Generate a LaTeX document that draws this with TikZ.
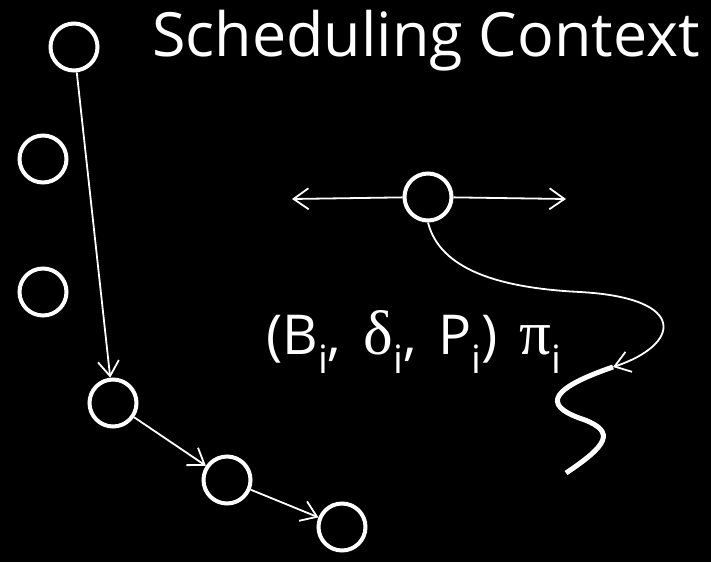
\documentclass[tikz,border=0pt]{standalone}
\usepackage{fontspec}
\setmainfont{Open Sans}
\newfontfamily\grk{Liberation Serif}
\usetikzlibrary{arrows.meta}

% lowered index letter as in the slide font
\newcommand{\idx}[1]{\raisebox{-19pt}{\fontsize{39}{39}\selectfont #1}}
\newcommand{\gap}{\hspace{22pt}}

\begin{document}
\begin{tikzpicture}[x=1pt,y=-1pt,>={Straight Barb[length=15pt,width=21pt]}]

  \tikzstyle{every node}=[text=white]
  \tikzstyle{task}=[circle,draw=white,line width=4pt,minimum size=47pt,inner sep=0pt]

  % slide background
  \fill[black] (0,0) rectangle (711,562);
  \useasboundingbox (0,0) rectangle (711,562);

  \node[anchor=base west,inner sep=0pt,font=\fontsize{61}{61}\selectfont] (title) at (152,56)
    {Scheduling Context};

  % queue of tasks
  \node[task] (n1) at (74,47) {};
  \node[task] (n2) at (43,159) {};
  \node[task] (n3) at (43,292) {};
  \node[task] (n4) at (113,403) {};
  \node[task] (n5) at (227,480) {};
  \node[task] (n6) at (342,527) {};

  % the running context
  \node[task] (ctx) at (428,197) {};
  \coordinate (left) at (292,199);
  \coordinate (right) at (566,199);
  \coordinate (thr) at (613,367);

  \node[anchor=base west,inner sep=0pt,font=\fontsize{55}{55}\selectfont] (param) at (266,354)
    {(B\idx{i},\gap{\grk\fontsize{63}{63}\selectfont δ}\idx{i},\gap P\idx{i})\gap{\grk\fontsize{63}{63}\selectfont π}\idx{i}};

  \foreach \from/\to in {n1/n4,n4/n5,n5/n6}
    \draw[->,white,line width=1.8pt] (\from) -- (\to);

  \draw[->,white,line width=1.8pt] (ctx) -- (left);
  \draw[->,white,line width=1.8pt] (ctx) -- (right);

  \draw[->,white,line width=1.8pt] (ctx.south) .. controls (440,270) and (500,288) .. (580,292)
    .. controls (690,298) and (680,345) .. (thr);

  % the thread
  \draw[white,line width=5pt] (thr) .. controls (540,392) and (548,408) .. (585,420)
    .. controls (615,432) and (608,445) .. (566,473);

\end{tikzpicture}
\end{document}
